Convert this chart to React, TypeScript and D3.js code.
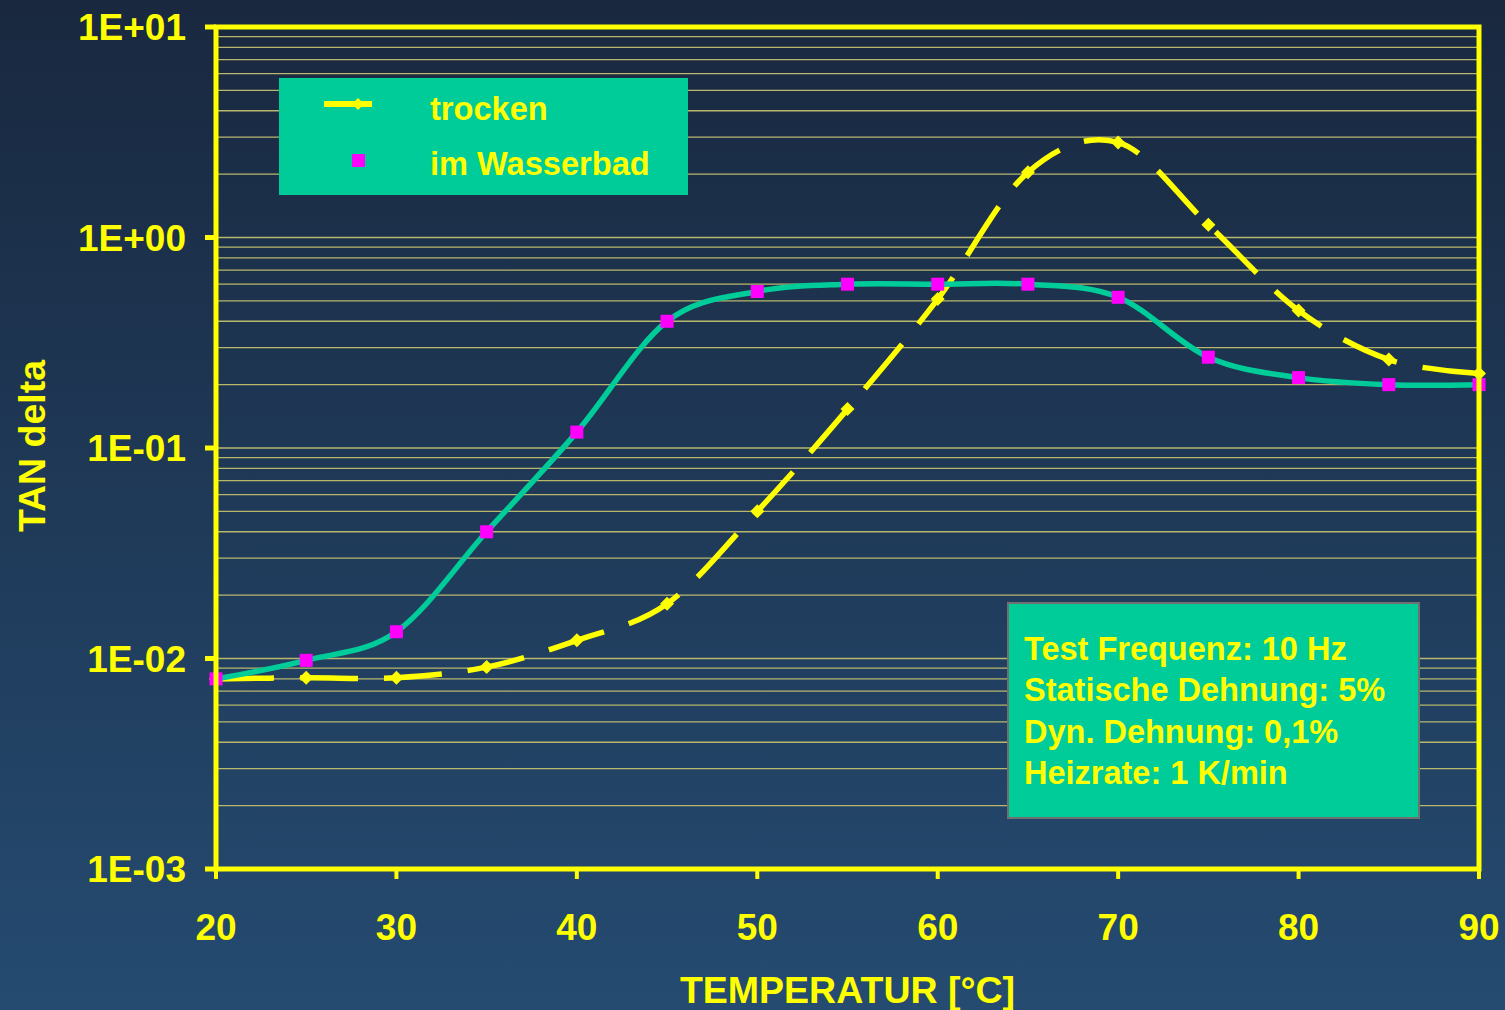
import React from 'react'
import * as d3 from 'd3'

// temperature steps (°C)
const temps = [20, 25, 30, 35, 40, 45, 50, 55, 60, 65, 70, 75, 80, 85, 90]
// TAN delta, dry sample
const trocken = [0.008, 0.0081, 0.0081, 0.0091, 0.0122, 0.0182, 0.05, 0.153, 0.51, 2.04, 2.83, 1.15, 0.45, 0.263, 0.226]
// TAN delta, sample in water bath
const wasserbad = [0.008, 0.0098, 0.0134, 0.04, 0.119, 0.4, 0.554, 0.6, 0.6, 0.6, 0.52, 0.27, 0.216, 0.2, 0.2]

const xTicks = [20, 30, 40, 50, 60, 70, 80, 90]
const yTicks = [1e-3, 1e-2, 1e-1, 1, 10]
const yTickLabels = ['1E-03', '1E-02', '1E-01', '1E+00', '1E+01']
const legendLabels = ['trocken', 'im Wasserbad']
const infoLines = ['Test Frequenz: 10 Hz', 'Statische Dehnung: 5%', 'Dyn. Dehnung: 0,1%', 'Heizrate: 1 K/min']

const W = 1505
const H = 1010
const margin = { left: 216, right: 26, top: 27, bottom: 141 }

const YELLOW = '#ffff00'
const TEAL = '#00cc99'
const MAGENTA = '#ff00ff'
const FONT = '"Liberation Sans", Arial, sans-serif'

export default function App() {
    const x = d3.scaleLinear().domain([20, 90]).range([margin.left, W - margin.right])
    const y = d3.scaleLog().domain([1e-3, 10]).range([H - margin.bottom, margin.top])

    // minor grid: 2..9 in each decade, plus the decades
    const grid: number[] = []
    for (let e = -3; e < 1; e++) {
        for (let m = 1; m < 10; m++) grid.push(m * Math.pow(10, e))
    }

    const line = d3
        .line<number>()
        .x((_, i) => x(temps[i]))
        .y(d => y(d))
        .curve(d3.curveCatmullRom.alpha(0))

    const x0 = x(20)
    const x1 = x(90)
    const yTop = y(10)
    const yBot = y(1e-3)

    const diamond = (cx: number, cy: number, r: number) =>
        `M${cx},${cy - r}L${cx + r},${cy}L${cx},${cy + r}L${cx - r},${cy}Z`

    return (
        <div style={{ position: 'absolute', left: 0, top: 0 }}>
            <svg width={W} height={H} style={{ display: 'block' }}>
                <defs>
                    <linearGradient id="bg" x1="0" y1="0" x2="0" y2="1">
                        <stop offset="0" stopColor="#19283f" />
                        <stop offset="1" stopColor="#254b71" />
                    </linearGradient>
                </defs>
                <rect width={W} height={H} fill="url(#bg)" />

                {/* grid lines */}
                {grid.map((g, i) => (
                    <line key={i} x1={x0} x2={x1} y1={y(g)} y2={y(g)} stroke="#b8b76c" strokeWidth={1.3} />
                ))}

                {/* legend box */}
                <rect x={279} y={78} width={409} height={117} fill={TEAL} />
                <line x1={324} x2={372} y1={104} y2={104} stroke={YELLOW} strokeWidth={6} />
                <path d={diamond(358, 104, 6)} fill={YELLOW} />
                <rect x={352} y={154} width={13} height={13} fill={MAGENTA} />
                {legendLabels.map((t, i) => (
                    <text key={t} x={430} y={120 + i * 55} fill={YELLOW} fontFamily={FONT} fontWeight="bold" fontSize={32.6}>
                        {t}
                    </text>
                ))}

                {/* info box */}
                <rect x={1008} y={603} width={411} height={215} fill={TEAL} stroke="#707070" strokeWidth={2} />
                {infoLines.map((t, i) => (
                    <text key={t} x={1024} y={660 + i * 41.3} fill={YELLOW} fontFamily={FONT} fontWeight="bold" fontSize={32.5}>
                        {t}
                    </text>
                ))}

                {/* series trocken */}
                <path d={line(trocken) || ''} fill="none" stroke={YELLOW} strokeWidth={5.5} strokeDasharray="58 26" />
                {trocken.map((v, i) => (
                    <path key={i} d={diamond(x(temps[i]), y(v), 7)} fill={YELLOW} />
                ))}

                {/* series im Wasserbad */}
                <path d={line(wasserbad) || ''} fill="none" stroke={TEAL} strokeWidth={5.5} />
                {wasserbad.map((v, i) => (
                    <rect key={i} x={x(temps[i]) - 6.5} y={y(v) - 6.5} width={13} height={13} fill={MAGENTA} />
                ))}

                {/* plot frame */}
                <rect x={x0} y={yTop} width={x1 - x0} height={yBot - yTop} fill="none" stroke={YELLOW} strokeWidth={5} />

                {/* y axis */}
                {yTicks.map((t, i) => (
                    <g key={t}>
                        <line x1={x0 - 11} x2={x0} y1={y(t)} y2={y(t)} stroke={YELLOW} strokeWidth={5} />
                        <text x={186} y={y(t)} dy="0.36em" textAnchor="end" fill={YELLOW} fontFamily={FONT} fontWeight="bold" fontSize={37}>
                            {yTickLabels[i]}
                        </text>
                    </g>
                ))}

                {/* x axis */}
                {xTicks.map(t => (
                    <g key={t}>
                        <line x1={x(t)} x2={x(t)} y1={yBot} y2={yBot + 10} stroke={YELLOW} strokeWidth={4} />
                        <text x={x(t)} y={940} textAnchor="middle" fill={YELLOW} fontFamily={FONT} fontWeight="bold" fontSize={37}>
                            {t}
                        </text>
                    </g>
                ))}

                <text x={(x0 + x1) / 2} y={1003} textAnchor="middle" fill={YELLOW} fontFamily={FONT} fontWeight="bold" fontSize={37.5}>
                    TEMPERATUR [°C]
                </text>
                <text
                    transform={`translate(45,${(yTop + yBot) / 2 - 2}) rotate(-90)`}
                    textAnchor="middle"
                    fill={YELLOW}
                    fontFamily={FONT}
                    fontWeight="bold"
                    fontSize={37.5}
                >
                    TAN delta
                </text>
            </svg>
        </div>
    )
}
